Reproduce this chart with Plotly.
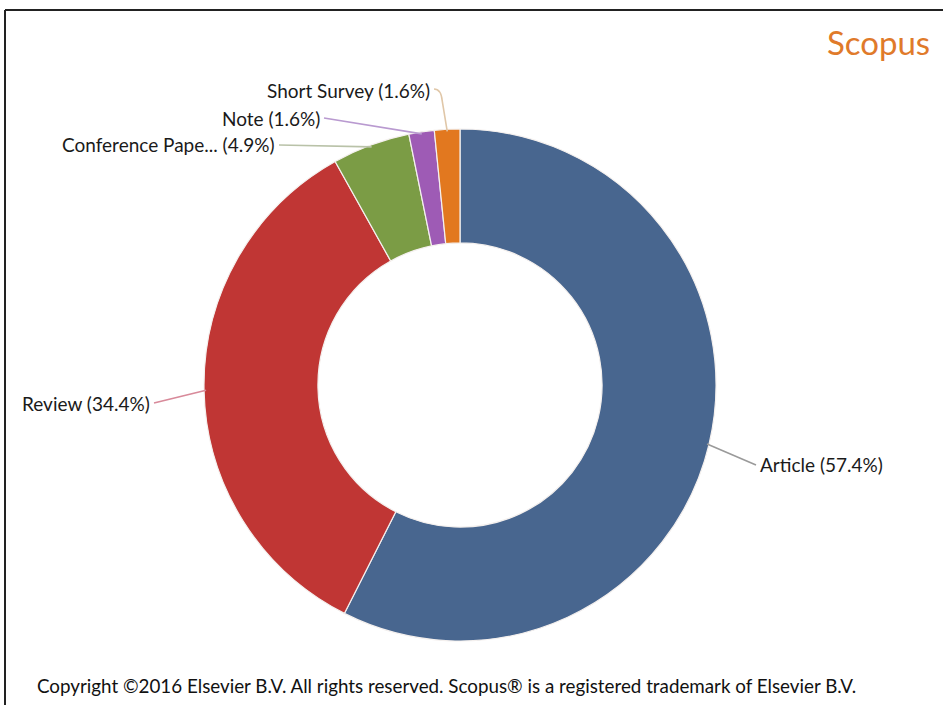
import math
import plotly.graph_objects as go

# Document types share (%)
doc_types = ["Article", "Review", "Conference Pape...", "Note", "Short Survey"]
shares = [57.4, 34.4, 4.9, 1.6, 1.6]
slice_colors = ["#48668f", "#c03634", "#7b9c45", "#9e5bb5", "#e2781f"]
line_colors = ["#9a9a9a", "#d88a9a", "#b9c2a8", "#b99ad0", "#e0c7a8"]

W, H = 943, 705
CX, CY, R = 460, 385, 256          # donut centre and outer radius in pixels
HOLE = 0.555


def px(x):
    return x / W


def py(y):
    return 1 - y / H


def edge_point(frac, r=R):
    """Pixel point on the ring at a fraction of the full turn, clockwise from 12 o'clock."""
    ang = 2 * math.pi * frac
    return CX + r * math.sin(ang), CY - r * math.cos(ang)


total = sum(shares)
mids = []
acc = 0.0
for v in shares:
    mids.append((acc + v / 2) / total)
    acc += v

fig = go.Figure(
    go.Pie(
        labels=doc_types,
        values=shares,
        hole=HOLE,
        sort=False,
        direction="clockwise",
        rotation=0,
        marker=dict(colors=slice_colors, line=dict(color="#f4f0ee", width=1.2)),
        textinfo="none",
        hoverinfo="label+percent",
        showlegend=False,
        domain=dict(x=[px(CX - R), px(CX + R)], y=[py(CY + R), py(CY - R)]),
    )
)

# Label placement: (text anchor x, y in pixels, xanchor)
label_layout = [
    (758, 465, "left"),
    (152, 403, "right"),
    (277, 145, "right"),
    (322, 118, "right"),
    (432, 91, "right"),
]

label_font = dict(family="Lato, 'Open Sans', sans-serif", size=19, color="#1a1a1a")
shapes = []
annotations = []
for i, (name, val) in enumerate(zip(doc_types, shares)):
    ex, ey = edge_point(mids[i], R - 2)
    lx, ly, anchor = label_layout[i]
    end_x = lx - 2 if anchor == "left" else lx + 2
    if name == "Short Survey":
        # vertical connector that bends toward the label
        path = (f"M {px(ex)},{py(ey)} L {px(ex - 5)},{py(ly + 10)} "
                f"Q {px(ex - 6)},{py(ly - 2)} {px(end_x)},{py(ly - 2)}")
    else:
        path = f"M {px(ex)},{py(ey)} L {px(end_x)},{py(ly)}"
    shapes.append(dict(type="path", xref="paper", yref="paper", path=path,
                       line=dict(color=line_colors[i], width=1.6)))
    annotations.append(dict(
        x=px(lx), y=py(ly), xref="paper", yref="paper",
        text=f"{name} ({val}%)", showarrow=False,
        xanchor=anchor, yanchor="middle", font=label_font,
    ))

# Brand mark and copyright line
annotations.append(dict(
    x=px(932), y=py(42), xref="paper", yref="paper", text="Scopus",
    showarrow=False, xanchor="right", yanchor="middle",
    font=dict(family="Lato, 'Open Sans', sans-serif", size=33, color="#e07a2a"),
))
annotations.append(dict(
    x=px(35), y=py(685), xref="paper", yref="paper",
    text="Copyright ©2016 Elsevier B.V. All rights reserved. Scopus® is a registered trademark of Elsevier B.V.",
    showarrow=False, xanchor="left", yanchor="middle",
    font=dict(family="Lato, 'Open Sans', sans-serif", size=18.8, color="#111111"),
))

# Frame: top and left rule
shapes.append(dict(type="line", xref="paper", yref="paper",
                   x0=px(5), y0=py(10), x1=1, y1=py(10),
                   line=dict(color="#222222", width=2)))
shapes.append(dict(type="line", xref="paper", yref="paper",
                   x0=px(5), y0=py(10), x1=px(5), y1=0,
                   line=dict(color="#222222", width=2)))

fig.update_layout(
    width=W, height=H,
    margin=dict(l=0, r=0, t=0, b=0),
    paper_bgcolor="white",
    plot_bgcolor="white",
    shapes=shapes,
    annotations=annotations,
)

fig.write_html("out.html")
